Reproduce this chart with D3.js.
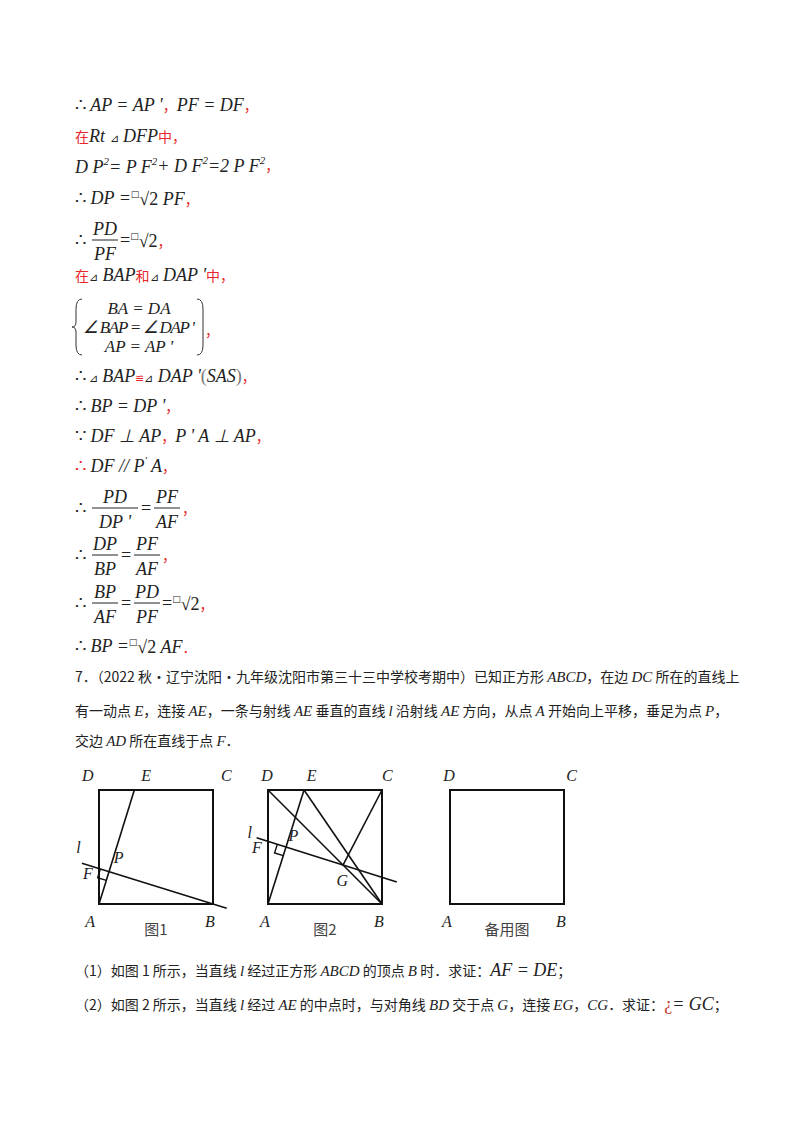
<!DOCTYPE html>
<html><head><meta charset="utf-8">
<script src="https://cdn.jsdelivr.net/npm/d3@7"></script>
<style>body{margin:0;background:#fff}</style>
</head><body>
<svg id="c" width="800" height="1132"></svg>
<script>
const RED="#e8262b";
const MF="'Liberation Serif','Times New Roman',serif";
const CF="'Noto Sans CJK SC',sans-serif";
const lines=[
 {y:111,seg:[["∴","r"],[" AP = AP '","i"],["，","c",RED],["PF = DF","i"],["，","c",RED]]},
 {y:142,seg:[["在","c",RED],["Rt ","i"],["⊿","s"],[" DFP","i"],["中，","c",RED]]},
 {y:173,seg:[["D P","i"],["2","u"],["= P F","i"],["2","u"],["+ D F","i"],["2","u"],["=2 P F","i"],["2","u"],["，","c",RED]]},
 {y:204,seg:[["∴","r"],[" DP =","i"],["□","q"],["√2","r"],[" PF","i"],["，","c",RED]]},
 {y:281,seg:[["在","c",RED],["⊿","s"],[" BAP","i"],["和","c",RED],["⊿","s"],[" DAP '","i"],["中，","c",RED]]},
 {y:382,seg:[["∴","r"],[" ⊿","s"],[" BAP","i"],["≌","s",RED],["⊿","s"],[" DAP '","i"],["(","r","#777"],["SAS","i"],[")","r","#777"],["，","c",RED]]},
 {y:412,seg:[["∴","r"],[" BP = DP '","i"],["，","c",RED]]},
 {y:442,seg:[["∵","r"],[" DF ⊥ AP","i"],["，","c",RED],["P ' A ⊥ AP","i"],["，","c",RED]]},
 {y:472,seg:[["∴","r",RED],[" DF // P","i"],["'","u"],[" A","i"],["，","c",RED]]},
 {y:652,seg:[["∴","r"],[" BP =","i"],["□","q"],["√2","r"],[" AF","i"],["．","c",RED]]}
];
const fracLines=[
 {y:240,parts:[["PD","PF"]],tail:[["=","r"],["□","q"],["√2","r"],["，","c",RED]]},
 {y:508,parts:[["PD","DP '"],["PF","AF"]],tail:[["，","c",RED]]},
 {y:555,parts:[["DP","BP"],["PF","AF"]],tail:[["，","c",RED]]},
 {y:603,parts:[["BP","AF"],["PD","PF"]],tail:[["=","r"],["□","q"],["√2","r"],["，","c",RED]]}
];
const braceRows=["BA = DA","∠ BAP = ∠ DAP '","AP = AP '"];
const para=[
 {y:682,x:75,t:[["7．（2022 秋·辽宁沈阳·九年级沈阳市第三十三中学校考期中）已知正方形 ","c"],["ABCD","ti"],["，在边 ","c"],["DC","ti"],[" 所在的直线上","c"]]},
 {y:716,x:75,t:[["有一动点 ","c"],["E","ti"],["，连接 ","c"],["AE","ti"],["，一条与射线 ","c"],["AE","ti"],[" 垂直的直线 ","c"],["l","ti"],[" 沿射线 ","c"],["AE","ti"],[" 方向，从点 ","c"],["A","ti"],[" 开始向上平移，垂足为点 ","c"],["P","ti"],["，","c"]]},
 {y:746,x:75,t:[["交边 ","c"],["AD","ti"],[" 所在直线于点 ","c"],["F","ti"],["．","c"]]},
 {y:976,x:75,t:[["（1）如图 1 所示，当直线 ","c"],["l","ti"],[" 经过正方形 ","c"],["ABCD","ti"],[" 的顶点 ","c"],["B","ti"],[" 时．求证：","c"],["AF = DE","i"],["；","c"]]},
 {y:1010,x:75,t:[["（2）如图 2 所示，当直线 ","c"],["l","ti"],[" 经过 ","c"],["AE","ti"],[" 的中点时，与对角线 ","c"],["BD","ti"],[" 交于点 ","c"],["G","ti"],["，连接 ","c"],["EG","ti"],["，","c"],["CG","ti"],["．求证：","c"],["¿","r","#c0392b"],["= GC","i"],["；","c"]]}
];
const figs=[
 {x0:99,cap:"图1",labels:{D:[-0.15,1.08],E:[0.37,1.08],C:[1.07,1.08],A:[-0.12,-0.2],B:[0.93,-0.2],l:[-0.2,0.45],F:[-0.14,0.22],P:[0.13,0.36]},
  segs:[[[0,0],[0.31,1]],[[-0.15,0.3565],[1.12,-0.0372]]],perp:{p:[0.088,0.283],u:[0.296,0.955],v:[0.955,-0.296]}},
 {x0:268,cap:"图2",labels:{D:[-0.06,1.08],E:[0.34,1.08],C:[1.0,1.08],A:[-0.07,-0.2],B:[0.93,-0.2],l:[-0.18,0.58],F:[-0.14,0.45],P:[0.18,0.55],G:[0.6,0.16]},
  segs:[[[0,0],[0.316,1]],[[-0.1,0.5815],[1.13,0.1928]],[[0,1],[1,0]],[[0.316,1],[1,0]],[[1,1],[0.658,0.342]]],perp:{p:[0.158,0.5],u:[0.301,0.954],v:[0.954,-0.301]}},
 {x0:450,cap:"备用图",labels:{D:[-0.06,1.08],C:[1.02,1.08],A:[-0.07,-0.2],B:[0.93,-0.2]},segs:[],perp:null}
];
const svg=d3.select("#c");
function kindStyle(t,k,col){
 if(k==="c"){t.attr("font-family",CF).attr("font-size",14);}
 else if(k==="ti"){t.attr("font-family",MF).attr("font-style","italic").attr("font-size",15);}
 else if(k==="i"){t.attr("font-family",MF).attr("font-style","italic").attr("font-size",18);}
 else if(k==="s"){t.attr("font-family",MF).attr("font-size",11);}
 else if(k==="q"){t.attr("font-family","DejaVu Sans").attr("font-size",9);}
 else {t.attr("font-family",MF).attr("font-size",18);}
 t.attr("fill",col||"#222");
}
function writeSeg(x,y,seg){
 const t=svg.append("text").attr("x",x).attr("y",y);
 let up=false;
 seg.forEach(([s,k,col])=>{
  const sp=t.append("tspan").text(s);
  if(k==="u"){sp.attr("font-family",MF).attr("font-style","italic").attr("font-size",11).attr("dy",-8).attr("fill","#222");up=true;}
  else if(k==="q"){kindStyle(sp,k,col);sp.attr("dy",-7);up=true;}
  else{kindStyle(sp,k,col); if(up){sp.attr("dy",k==="q"?0:(sp.attr("dy")||0)+ (up?7.5:0));up=false;}}
 });
 return t;
}
lines.forEach(l=>writeSeg(75,l.y,l.seg));
fracLines.forEach(f=>{
 let x=75;
 svg.append("text").attr("x",x).attr("y",f.y+6).attr("font-family",MF).attr("font-size",18).attr("fill","#222").text("∴");
 x+=17;
 f.parts.forEach((p,i)=>{
  if(i>0){svg.append("text").attr("x",x+1).attr("y",f.y+6).attr("font-family",MF).attr("font-size",18).attr("fill","#222").text("=");x+=14;}
  const w=Math.max(p[0].length,p[1].length)*10+6;
  svg.append("line").attr("x1",x).attr("x2",x+w).attr("y1",f.y).attr("y2",f.y).attr("stroke","#222").attr("stroke-width",1);
  [p[0],p[1]].forEach((s,j)=>svg.append("text").attr("x",x+w/2).attr("y",j?f.y+20:f.y-5).attr("text-anchor","middle")
   .attr("font-family",MF).attr("font-style","italic").attr("font-size",18).attr("fill","#222").text(s));
  x+=w+2;
 });
 writeSeg(x,f.y+6,f.tail);
});
svg.append("path").attr("d","M82,299 Q76,299 76,309 L76,322 Q76,327 72,327 Q76,327 76,332 L76,345 Q76,355 82,355").attr("fill","none").attr("stroke","#333");
svg.append("path").attr("d","M197,299 Q203,299 203,309 L203,345 Q203,355 197,355").attr("fill","none").attr("stroke","#333");
braceRows.forEach((r,i)=>svg.append("text").attr("x",139).attr("y",314+i*19).attr("text-anchor","middle")
 .attr("font-family",MF).attr("font-style","italic").attr("font-size",17).attr("textLength",i===1?112:null).attr("fill","#222").text(r));
svg.append("text").attr("x",205).attr("y",336).attr("font-family",CF).attr("font-size",14).attr("fill",RED).text("，");
para.forEach(p=>{const t=svg.append("text").attr("x",p.x).attr("y",p.y);
 p.t.forEach(([s,k,col])=>{const sp=t.append("tspan").text(s);kindStyle(sp,k,col);});});
const side=114, yBase=904;
figs.forEach(f=>{
 const sx=d3.scaleLinear().domain([0,1]).range([f.x0,f.x0+side]);
 const sy=d3.scaleLinear().domain([0,1]).range([yBase,yBase-side]);
 const g=svg.append("g");
 g.append("rect").attr("x",sx(0)).attr("y",sy(1)).attr("width",side).attr("height",side).attr("fill","none").attr("stroke","#111").attr("stroke-width",2);
 f.segs.forEach(s=>g.append("line").attr("x1",sx(s[0][0])).attr("y1",sy(s[0][1])).attr("x2",sx(s[1][0])).attr("y2",sy(s[1][1])).attr("stroke","#111").attr("stroke-width",1.6));
 if(f.perp){const {p,u,v}=f.perp,d=0.08;
  const a=[p[0]-u[0]*d,p[1]-u[1]*d],b=[a[0]-v[0]*d,a[1]-v[1]*d],c=[p[0]-v[0]*d,p[1]-v[1]*d];
  g.append("path").attr("d",`M${sx(a[0])},${sy(a[1])}L${sx(b[0])},${sy(b[1])}L${sx(c[0])},${sy(c[1])}`).attr("fill","none").attr("stroke","#111").attr("stroke-width",1.4);}
 Object.entries(f.labels).forEach(([k,[x,y]])=>g.append("text").attr("x",sx(x)).attr("y",sy(y)).attr("font-family",MF).attr("font-style","italic").attr("font-size",16).attr("fill","#222").text(k));
 g.append("text").attr("x",sx(0.5)).attr("y",935).attr("text-anchor","middle").attr("font-family",CF).attr("font-size",15).attr("fill","#444").text(f.cap);
});
</script>
</body></html>
